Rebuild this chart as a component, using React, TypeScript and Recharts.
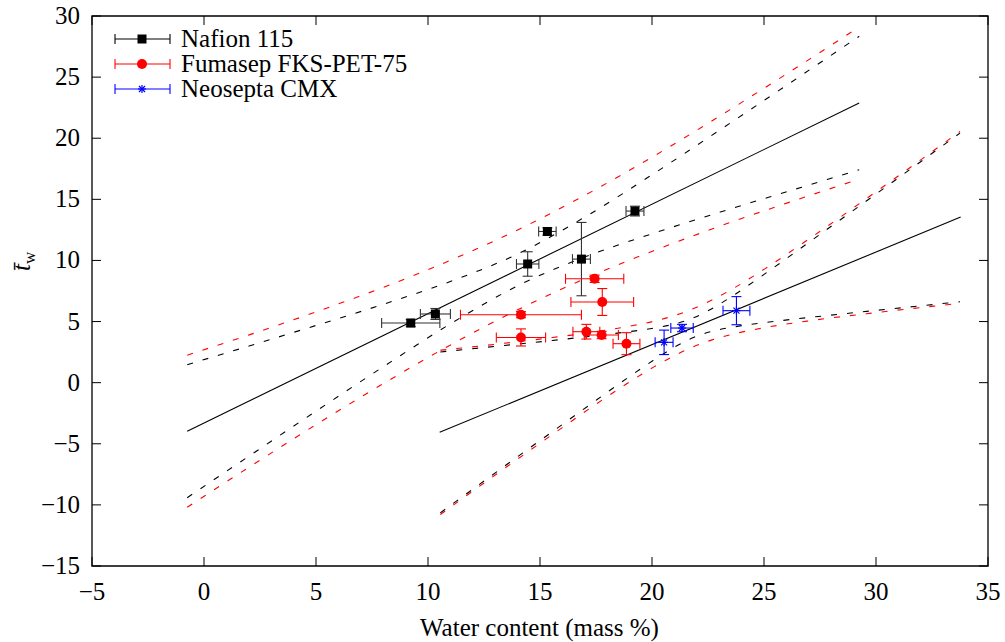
import React from 'react';
import {
  ComposedChart,
  Scatter,
  Line,
  XAxis,
  YAxis,
  ErrorBar,
  ReferenceArea,
  Legend,
} from 'recharts';

// axis ticks
const xTicks = [-5, 0, 5, 10, 15, 20, 25, 30, 35];
const yTicks = [-15, -10, -5, 0, 5, 10, 15, 20, 25, 30];

// Nafion 115
const nafionX = [9.23, 10.33, 14.45, 15.33, 16.85, 19.24];
const nafionY = [4.88, 5.62, 9.71, 12.37, 10.11, 14.04];
const nafionXErr = [1.3, 0.67, 0.5, 0.39, 0.4, 0.4];
const nafionYErr = [0.3, 0.45, 1.0, 0.3, 3.0, 0.4];

// Fumasep FKS-PET-75
const fumaX = [17.44, 17.78, 14.15, 14.15, 17.07, 17.75, 18.86];
const fumaY = [8.5, 6.6, 5.56, 3.7, 4.17, 3.9, 3.19];
const fumaXErr = [1.3, 1.4, 2.7, 1.1, 0.6, 0.75, 0.6];
const fumaYErr = [0.3, 1.1, 0.25, 0.7, 0.6, 0.3, 0.9];

// Neosepta CMX
const neoX = [20.54, 21.34, 23.77];
const neoY = [3.3, 4.47, 5.89];
const neoXErr = [0.4, 0.5, 0.6];
const neoYErr = [1.0, 0.3, 1.15];

// fit + bands, Nafion
const nafFitX = [-0.75, 29.25];
const nafFitY = [-3.97, 22.88];
const nafBandX = [-0.75, 2.05, 5.05, 8.05, 11.05, 14.05, 17.05, 20.05, 23.05, 26.05, 29.25];
const nafConfHi = [1.47, 3.02, 4.71, 6.44, 8.31, 10.57, 13.6, 17.07, 20.7, 24.38, 28.34];
const nafConfLo = [-9.41, -5.96, -2.27, 1.36, 4.87, 7.97, 10.32, 12.21, 13.96, 15.64, 17.42];
const nafPredHi = [2.25, 3.93, 5.82, 7.83, 10.05, 12.54, 15.38, 18.5, 21.84, 25.31, 29.11];
const nafPredLo = [-10.19, -6.87, -3.38, -0.03, 3.13, 6.0, 8.54, 10.78, 12.82, 14.71, 16.65];

// fit + bands, Neosepta
const neoFitX = [10.52, 33.78];
const neoFitY = [-4.06, 13.55];
const neoBandX = [10.55, 13.05, 15.55, 17.55, 19.05, 20.05, 21.05, 21.85, 22.65, 23.65, 25.05, 27.05, 30.05, 33.75];
const neoConfHi = [2.51, 2.98, 3.45, 3.86, 4.19, 4.45, 4.82, 5.3, 6.03, 7.16, 8.92, 11.54, 15.5, 20.42];
const neoConfLo = [-10.65, -7.32, -4.01, -1.38, 0.57, 1.81, 2.96, 3.7, 4.19, 4.56, 4.92, 5.34, 5.92, 6.62];
const neoPredHi = [2.65, 3.15, 3.69, 4.18, 4.64, 5.01, 5.52, 6.06, 6.74, 7.73, 9.33, 11.81, 15.68, 20.55];
const neoPredLo = [-10.79, -7.49, -4.25, -1.7, 0.12, 1.25, 2.26, 2.94, 3.48, 3.99, 4.51, 5.07, 5.74, 6.49];

const FONT = "'Liberation Serif', serif";
const txt: React.CSSProperties = { fontFamily: FONT, fontSize: 25 };
const W = 1005;
const H = 642;
const TOP = 16;
const BOTTOM = 566;
const LEFT = 92;
const RIGHT = 988;
const X_MIN = -5;
const X_MAX = 35;
const Y_MIN = -15;
const Y_MAX = 30;

const pts = (xs: number[], ys: number[], ex: number[], ey: number[]) =>
  xs.map((x, i) => ({ x, y: ys[i], ex: ex[i], ey: ey[i] }));
const curve = (xs: number[], ys: number[]) => xs.map((x, i) => ({ x, y: ys[i] }));

const nafion = pts(nafionX, nafionY, nafionXErr, nafionYErr);
const fuma = pts(fumaX, fumaY, fumaXErr, fumaYErr);
const neo = pts(neoX, neoY, neoXErr, neoYErr);

const fmt = (v: number) => (v < 0 ? '\u2212' + Math.abs(v) : String(v));
// rough label width at 25px (digits 0.5em, minus 0.56em)
const labelW = (v: number) => String(Math.abs(v)).length * 12.5 + (v < 0 ? 14 : 0);
// same mapping as the plot area set by the margins below (labels only)
const px = (v: number) => LEFT + ((v - X_MIN) / (X_MAX - X_MIN)) * (RIGHT - LEFT);
const py = (v: number) => BOTTOM - ((v - Y_MIN) / (Y_MAX - Y_MIN)) * (BOTTOM - TOP);

const Square = ({ cx, cy }: any) => <rect x={cx - 4.5} y={cy - 4.5} width={9} height={9} fill="#000" />;
const Dot = ({ cx, cy }: any) => <circle cx={cx} cy={cy} r={5} fill="#ff0000" />;
const Star = ({ cx, cy }: any) => (
  <g stroke="#0000ff" strokeWidth={1.2}>
    <line x1={cx - 4} y1={cy} x2={cx + 4} y2={cy} />
    <line x1={cx} y1={cy - 4} x2={cx} y2={cy + 4} />
    <line x1={cx - 3} y1={cy - 3} x2={cx + 3} y2={cy + 3} />
    <line x1={cx - 3} y1={cy + 3} x2={cx + 3} y2={cy - 3} />
  </g>
);

// inward tick marks on both sides (gnuplot style)
const XTick = ({ x }: any) => (
  <g>
    <line x1={x} x2={x} y1={BOTTOM} y2={BOTTOM - 9} stroke="#000" strokeWidth={1} />
    <line x1={x} x2={x} y1={TOP} y2={TOP + 9} stroke="#000" strokeWidth={1} />
  </g>
);

const YTick = ({ y }: any) => (
  <g>
    <line x1={LEFT} x2={LEFT + 9} y1={y} y2={y} stroke="#000" strokeWidth={1} />
    <line x1={RIGHT} x2={RIGHT - 9} y1={y} y2={y} stroke="#000" strokeWidth={1} />
  </g>
);

const legendRows = [
  { name: 'Nafion 115', color: '#000', mark: 'square' },
  { name: 'Fumasep FKS-PET-75', color: '#ff0000', mark: 'dot' },
  { name: 'Neosepta CMX', color: '#0000ff', mark: 'star' },
];

// legend + all the texts of the figure
const renderOverlay = () => (
  <svg width={W} height={H} style={{ display: 'block', pointerEvents: 'none' }}>
    {xTicks.map((v) => (
      <text key={'x' + v} x={px(v) - labelW(v) / 2} y={600} style={txt} fill="#000">
        {fmt(v)}
      </text>
    ))}
    {yTicks.map((v) => (
      <text key={'y' + v} x={80 - labelW(v)} y={py(v) + 8} style={txt} fill="#000">
        {fmt(v)}
      </text>
    ))}
    <text x={420} y={636} style={txt} fill="#000">
      Water content (mass %)
    </text>
    <text transform="rotate(-90, 30, 262)" x={21} y={262} style={txt} fill="#000">
      <tspan fontStyle="italic">{'t\u0304'}</tspan>
      <tspan style={{ fontSize: 17 }} dy={5}>w</tspan>
    </text>
    {legendRows.map((r, i) => {
      const y = 39 + i * 25;
      const cx = 142;
      return (
        <g key={r.name}>
          <line x1={115} x2={170} y1={y} y2={y} stroke={r.color} strokeWidth={1.1} />
          <line x1={115} x2={115} y1={y - 5} y2={y + 5} stroke={r.color} strokeWidth={1.1} />
          <line x1={170} x2={170} y1={y - 5} y2={y + 5} stroke={r.color} strokeWidth={1.1} />
          {r.mark === 'square' && <Square cx={cx} cy={y} />}
          {r.mark === 'dot' && <Dot cx={cx} cy={y} />}
          {r.mark === 'star' && <Star cx={cx} cy={y} />}
          <text x={181} y={y + 8} style={txt} fill="#000">
            {r.name}
          </text>
        </g>
      );
    })}
  </svg>
);

const dashed = { strokeDasharray: '6 10', strokeWidth: 1.1, dot: false, isAnimationActive: false, type: 'monotone' as const };

export default function App() {
  return (
    <div style={{ position: 'absolute', left: 0, top: 0, background: '#fff', fontFamily: FONT }}>
      <ComposedChart
        width={W}
        height={H}
        margin={{ top: TOP, right: W - RIGHT, bottom: 0, left: 0 }}
      >
        <XAxis
          type="number"
          dataKey="x"
          domain={[X_MIN, X_MAX]}
          ticks={xTicks}
          interval={0}
          allowDataOverflow
          axisLine={false}
          tickLine={false}
          tick={<XTick />}
          height={H - BOTTOM}
        />
        <YAxis
          type="number"
          dataKey="y"
          domain={[Y_MIN, Y_MAX]}
          ticks={yTicks}
          interval={0}
          allowDataOverflow
          axisLine={false}
          tickLine={false}
          tick={<YTick />}
          width={LEFT}
        />
        <ReferenceArea x1={X_MIN} x2={X_MAX} y1={Y_MIN} y2={Y_MAX} fill="none" stroke="#000" strokeWidth={1.3} fillOpacity={0} ifOverflow="visible" />

        <Line data={curve(nafBandX, nafPredHi)} dataKey="y" stroke="#ff0000" {...dashed} />
        <Line data={curve(nafBandX, nafPredLo)} dataKey="y" stroke="#ff0000" {...dashed} />
        <Line data={curve(nafBandX, nafConfHi)} dataKey="y" stroke="#000" {...dashed} />
        <Line data={curve(nafBandX, nafConfLo)} dataKey="y" stroke="#000" {...dashed} />
        <Line data={curve(nafFitX, nafFitY)} dataKey="y" stroke="#000" strokeWidth={1.1} dot={false} isAnimationActive={false} type="linear" />

        <Line data={curve(neoBandX, neoPredHi)} dataKey="y" stroke="#ff0000" {...dashed} />
        <Line data={curve(neoBandX, neoPredLo)} dataKey="y" stroke="#ff0000" {...dashed} />
        <Line data={curve(neoBandX, neoConfHi)} dataKey="y" stroke="#000" {...dashed} />
        <Line data={curve(neoBandX, neoConfLo)} dataKey="y" stroke="#000" {...dashed} />
        <Line data={curve(neoFitX, neoFitY)} dataKey="y" stroke="#000" strokeWidth={1.1} dot={false} isAnimationActive={false} type="linear" />

        <Scatter data={nafion} dataKey="y" shape={<Square />} isAnimationActive={false}>
          <ErrorBar dataKey="ex" direction="x" width={5} stroke="#333" strokeWidth={1.1} />
          <ErrorBar dataKey="ey" direction="y" width={5} stroke="#333" strokeWidth={1.1} />
        </Scatter>
        <Scatter data={fuma} dataKey="y" shape={<Dot />} isAnimationActive={false}>
          <ErrorBar dataKey="ex" direction="x" width={5} stroke="#ff0000" strokeWidth={1.1} />
          <ErrorBar dataKey="ey" direction="y" width={5} stroke="#ff0000" strokeWidth={1.1} />
        </Scatter>
        <Scatter data={neo} dataKey="y" shape={<Star />} isAnimationActive={false}>
          <ErrorBar dataKey="ex" direction="x" width={5} stroke="#0000ff" strokeWidth={1.1} />
          <ErrorBar dataKey="ey" direction="y" width={5} stroke="#0000ff" strokeWidth={1.1} />
        </Scatter>

        <Legend
          layout="vertical"
          align="center"
          verticalAlign="middle"
          content={renderOverlay}
          wrapperStyle={{ position: 'absolute', left: 0, top: 0, width: W, height: H, pointerEvents: 'none' }}
        />
      </ComposedChart>
    </div>
  );
}
